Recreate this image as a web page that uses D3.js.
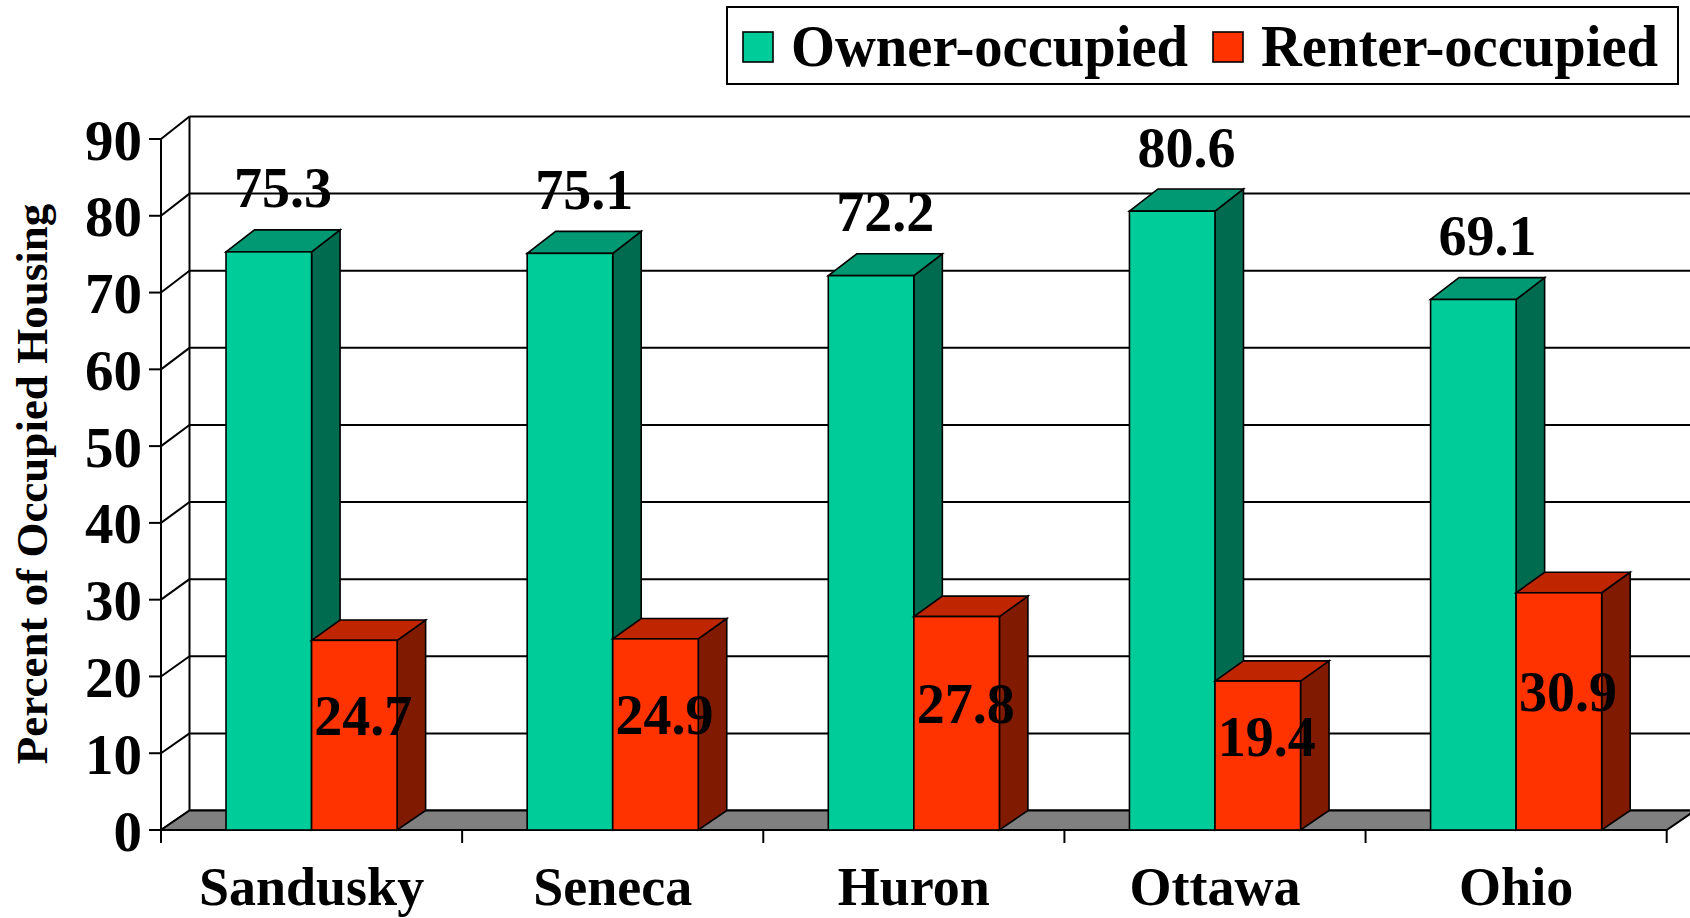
<!DOCTYPE html>
<html>
<head>
<meta charset="utf-8">
<script src="https://cdn.jsdelivr.net/npm/d3@7"></script>
<style>
  body { margin: 0; background: #fff; }
  text { font-family: "Liberation Serif", "Times New Roman", serif; font-weight: bold; fill: #000; }
</style>
</head>
<body>
<div id="chart"></div>
<script>
(function(){
  var categories = ['Sandusky', 'Seneca', 'Huron', 'Ottawa', 'Ohio'];
  var series = ['Owner-occupied', 'Renter-occupied'];
  var owner = [75.3, 75.1, 72.2, 80.6, 69.1];
  var renter = [24.7, 24.9, 27.8, 19.4, 30.9];
  var yTicks = [0, 10, 20, 30, 40, 50, 60, 70, 80, 90];

  var width = 1690;
  var height = 918;
  var left = 161, right = 1666.7;
  var depthX = 28.5; // oblique depth offset

  // face colours: front, top, side
  var colors = {
    'Owner-occupied': { front: '#00cc99', top: '#009973', side: '#006b4f' },
    'Renter-occupied': { front: '#ff3300', top: '#bf2600', side: '#801a00' }
  };

  var svg = d3.select('#chart').append('svg')
              .attr('width', width)
              .attr('height', height);

  var x = d3.scaleBand().domain(categories).range([left, right]);
  var xSub = d3.scaleBand().domain(series).range([0, x.bandwidth()]).paddingOuter(0.76);
  var yF = d3.scaleLinear().domain([0, 90]).range([830, 139]);   // front plane
  var yB = d3.scaleLinear().domain([0, 90]).range([810.5, 116.5]); // back wall

  // back wall gridlines + left wall diagonals
  svg.selectAll('.grid')
      .data(yTicks)
      .enter()
      .append('line')
        .attr('x1', left + depthX)
        .attr('x2', width)
        .attr('y1', function(d){ return yB(d); })
        .attr('y2', function(d){ return yB(d); })
        .attr('stroke', '#000')
        .attr('stroke-width', 2);

  svg.selectAll('.diag')
      .data(yTicks)
      .enter()
      .append('line')
        .attr('x1', left)
        .attr('y1', function(d){ return yF(d); })
        .attr('x2', left + depthX)
        .attr('y2', function(d){ return yB(d); })
        .attr('stroke', '#000')
        .attr('stroke-width', 2);

  svg.append('line')
      .attr('x1', left + depthX).attr('x2', left + depthX)
      .attr('y1', yB(0)).attr('y2', yB(90))
      .attr('stroke', '#000').attr('stroke-width', 2);

  // floor
  svg.append('polygon')
      .attr('points', [[left, yF(0)], [left + depthX, yB(0)], [right + depthX, yB(0)], [right, yF(0)]].join(' '))
      .attr('fill', '#808080')
      .attr('stroke', '#000')
      .attr('stroke-width', 2);

  // front value axis
  svg.append('line')
      .attr('x1', left).attr('x2', left)
      .attr('y1', yF(90)).attr('y2', yF(0) + 13)
      .attr('stroke', '#000').attr('stroke-width', 2);

  svg.selectAll('.ytick')
      .data(yTicks)
      .enter()
      .append('line')
        .attr('x1', left - 12).attr('x2', left)
        .attr('y1', function(d){ return yF(d); })
        .attr('y2', function(d){ return yF(d); })
        .attr('stroke', '#000').attr('stroke-width', 2);

  svg.selectAll('.ylabel')
      .data(yTicks)
      .enter()
      .append('text')
        .text(function(d){ return d; })
        .attr('x', 142)
        .attr('y', function(d){ return yF(d); })
        .attr('dy', '0.36em')
        .attr('text-anchor', 'end')
        .attr('font-size', '57px');

  // category ticks
  var bounds = categories.map(function(c){ return x(c); }).concat([right]);
  svg.selectAll('.xtick')
      .data(bounds)
      .enter()
      .append('line')
        .attr('x1', function(d){ return d; })
        .attr('x2', function(d){ return d; })
        .attr('y1', yF(0)).attr('y2', yF(0) + 13)
        .attr('stroke', '#000').attr('stroke-width', 2);

  // bars
  var bars = [];
  categories.forEach(function(c, i){
    bars.push({ cat: c, s: series[0], v: owner[i] });
    bars.push({ cat: c, s: series[1], v: renter[i] });
  });

  var g = svg.selectAll('.bar')
      .data(bars)
      .enter()
      .append('g');

  function xl(d){ return x(d.cat) + xSub(d.s); }
  var w = xSub.bandwidth();

  g.append('polygon')
      .attr('points', function(d){
        var a = xl(d) + w;
        return [[a, yF(d.v)], [a + depthX, yB(d.v)], [a + depthX, yB(0)], [a, yF(0)]].join(' ');
      })
      .attr('fill', function(d){ return colors[d.s].side; })
      .attr('stroke', '#000').attr('stroke-width', 1.6);

  g.append('polygon')
      .attr('points', function(d){
        var a = xl(d);
        return [[a, yF(d.v)], [a + depthX, yB(d.v)], [a + w + depthX, yB(d.v)], [a + w, yF(d.v)]].join(' ');
      })
      .attr('fill', function(d){ return colors[d.s].top; })
      .attr('stroke', '#000').attr('stroke-width', 1.6);

  g.append('rect')
      .attr('x', xl)
      .attr('y', function(d){ return yF(d.v); })
      .attr('width', w)
      .attr('height', function(d){ return yF(0) - yF(d.v); })
      .attr('fill', function(d){ return colors[d.s].front; })
      .attr('stroke', '#000').attr('stroke-width', 1.6);

  // value labels
  svg.selectAll('.val')
      .data(bars)
      .enter()
      .append('text')
        .text(function(d){ return d.v.toFixed(1); })
        .attr('x', function(d){
          return d.s === series[0] ? xl(d) + w / 2 + depthX / 2 : xl(d) + w / 2 + 9;
        })
        .attr('y', function(d){
          return d.s === series[0] ? yF(d.v + 5.8) : yF(d.v / 2);
        })
        .attr('text-anchor', 'middle')
        .attr('font-size', '56px');

  // category labels
  svg.selectAll('.cat')
      .data(categories)
      .enter()
      .append('text')
        .text(function(d){ return d; })
        .attr('x', function(d){ return x(d) + x.bandwidth() / 2; })
        .attr('y', 905)
        .attr('text-anchor', 'middle')
        .attr('font-size', '54px');

  // axis title
  svg.append('text')
      .text('Percent of Occupied Housing')
      .attr('transform', 'translate(47,484) rotate(-90)')
      .attr('text-anchor', 'middle')
      .attr('font-size', '45px');

  // legend
  svg.append('rect')
      .attr('x', 727).attr('y', 7)
      .attr('width', 951).attr('height', 77)
      .attr('fill', '#fff')
      .attr('stroke', '#000').attr('stroke-width', 2);

  var legendX = [743, 1213];
  var lg = svg.selectAll('.legend')
      .data(series)
      .enter()
      .append('g')
        .attr('transform', function(d, i){ return 'translate(' + legendX[i] + ',32)'; });

  lg.append('rect')
      .attr('width', 30).attr('height', 30)
      .attr('fill', function(d){ return colors[d].front; })
      .attr('stroke', '#000').attr('stroke-width', 1.6);

  lg.append('text')
      .text(function(d){ return d; })
      .attr('x', 48)
      .attr('y', 34)
      .attr('font-size', '59px')
      .attr('textLength', 397)
      .attr('lengthAdjust', 'spacingAndGlyphs');
})();
</script>
</body>
</html>
